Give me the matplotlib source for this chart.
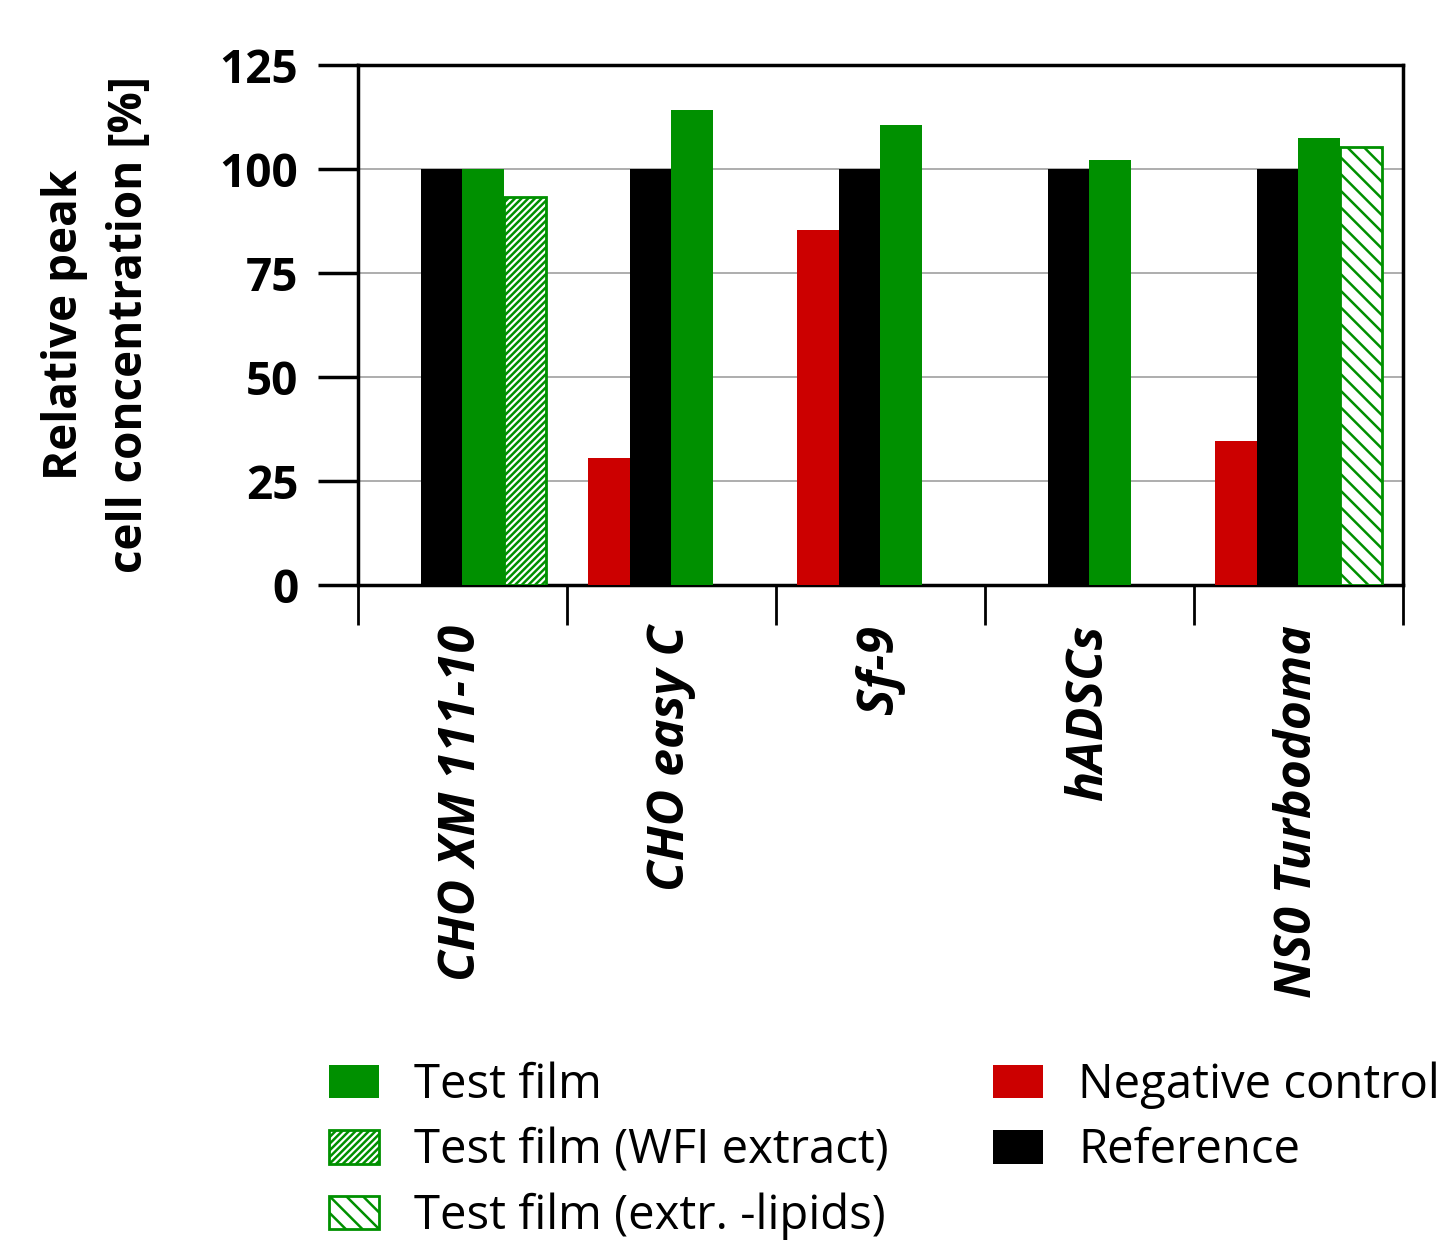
import numpy as np
import matplotlib.pyplot as plt

plt.rcParams['font.family'] = ['Open Sans', 'DejaVu Sans']
plt.rcParams['hatch.linewidth'] = 1.8

cell_lines = ['CHO XM 111-10', 'CHO easy C', 'Sf-9', 'hADSCs', 'NS0 Turbodoma']
negative = [np.nan, 30.5, 85.3, np.nan, 34.6]
reference = [100, 100, 100, 100, 100]
test_film = [100, 114.2, 110.6, 102.2, 107.5]
wfi_extract = [93.3, np.nan, np.nan, np.nan, np.nan]
extr_lipids = [np.nan, np.nan, np.nan, np.nan, 105.3]

green = '#009000'
red = '#cc0000'

fig = plt.figure(figsize=(14.51, 12.43), dpi=100)
ax = fig.add_axes([0.2467, 0.5294, 0.7202, 0.4183])

x = np.arange(len(cell_lines))
w = 0.2
ax.bar(x - 1.5*w, negative, w, color=red, label='Negative control', zorder=3)
ax.bar(x - 0.5*w, reference, w, color='black', label='Reference', zorder=3)
ax.bar(x + 0.5*w, test_film, w, color=green, label='Test film', zorder=3)
ax.bar(x + 1.5*w, wfi_extract, w, color='white', edgecolor=green, hatch='/////',
       linewidth=2, label='Test film (WFI extract)', zorder=3)
ax.bar(x + 1.5*w, extr_lipids, w, color='white', edgecolor=green, hatch='\\\\',
       linewidth=2, label='Test film (extr. -lipids)', zorder=3)

ax.set_xlim(-0.5, len(cell_lines) - 0.5)
ax.set_ylim(0, 125)
ax.set_yticks([0, 25, 50, 75, 100, 125])
ax.yaxis.grid(True, color='#a0a0a0', linewidth=1.2, zorder=0)
ax.tick_params(axis='y', length=29, width=2.5, pad=14, labelsize=33)
for t in ax.get_yticklabels():
    t.set_fontweight('bold')

ax.set_xticks(x)
ax.set_xticklabels(cell_lines, rotation=90, fontsize=36, fontweight='bold',
                   fontstyle='italic', va='top')
ax.set_xticks(np.arange(len(cell_lines) + 1) - 0.5, minor=True)
ax.tick_params(axis='x', which='major', length=0, pad=29)
ax.tick_params(axis='x', which='minor', length=29, width=2)

for s in ax.spines.values():
    s.set_linewidth(2.5)

ax.set_ylabel('Relative peak\ncell concentration [%]', fontsize=33,
              fontweight='bold', labelpad=48, linespacing=1.5)

handles, labels = ax.get_legend_handles_labels()
order = [2, 3, 4, 0, 1]
fig.legend([handles[i] for i in order], [labels[i] for i in order],
           loc='upper left', bbox_to_anchor=(0.227, 0.146), ncol=2,
           fontsize=34, frameon=False, handlelength=1.06, handleheight=0.72,
           handletextpad=0.74, columnspacing=2.2, labelspacing=0.38,
           borderpad=0, borderaxespad=0)

fig.savefig('out.png', dpi=100)
